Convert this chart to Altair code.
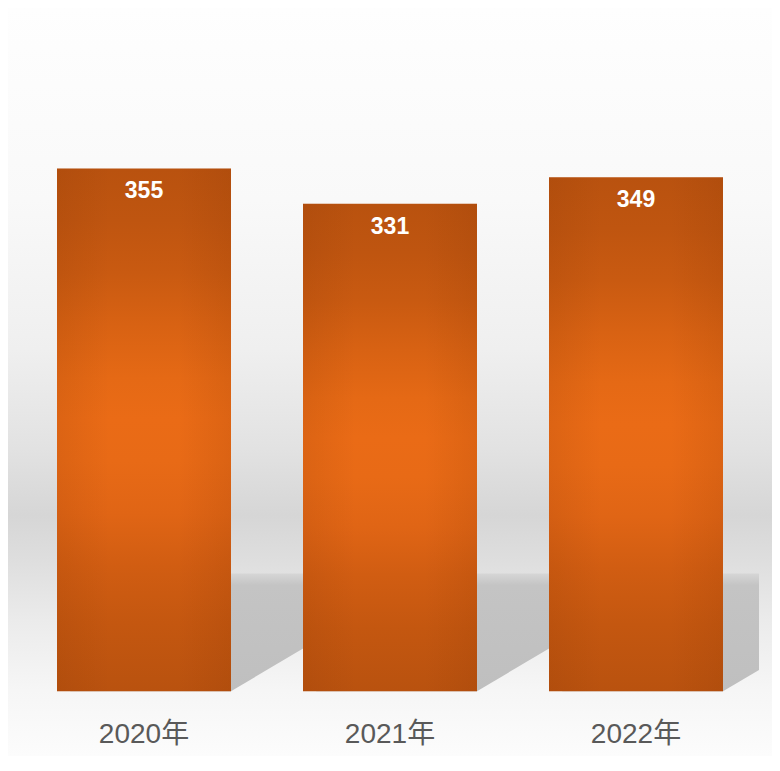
import altair as alt
import pandas as pd

# ---- data ----
years = ["2020年", "2021年", "2022年"]
values = [355, 331, 349]

# ---- layout / style constants ----
W, H = 764, 748
Y_DOMAIN = [-44, 464]
LABEL_Y = -35
PAD_INNER = 0.2927
PAD_OUTER = 0.1992
X_Q_DOMAIN = [-0.5528, 2.5528]   # index units matching the band scale
BAR_HALF = 0.3537
SHADOW_TOP = 80
SHADOW_RUN = 0.809
SHADOW_BACK = 0.3
SHADOW_CLIP = 2.5
FONT = "Liberation Sans, Arial, Noto Sans CJK SC, sans-serif"

df = pd.DataFrame({"year": years, "value": values})

rows = []
for i, yr in enumerate(years):
    right = i + BAR_HALF
    end = right + SHADOW_RUN
    pts = [(i - SHADOW_BACK, 0), (right, 0)]
    if end > SHADOW_CLIP:
        pts.append((SHADOW_CLIP, SHADOW_TOP * (SHADOW_CLIP - right) / SHADOW_RUN))
    else:
        pts.append((end, SHADOW_TOP))
    for p, lo in pts:
        rows.append({"bar": yr, "pos": p, "lo": lo, "hi": SHADOW_TOP})
shadow_df = pd.DataFrame(rows)

bg_gradient = {
    "gradient": "linear", "x1": 0, "y1": 0, "x2": 0, "y2": 1,
    "stops": [
        {"offset": 0.0, "color": "#fefefe"},
        {"offset": 0.257, "color": "#f9f9f9"},
        {"offset": 0.457, "color": "#efefef"},
        {"offset": 0.59, "color": "#e2e2e2"},
        {"offset": 0.678, "color": "#d6d6d6"},
        {"offset": 0.738, "color": "#dedede"},
        {"offset": 0.818, "color": "#ebebeb"},
        {"offset": 0.912, "color": "#f6f6f6"},
        {"offset": 1.0, "color": "#fcfcfc"},
    ],
}

bar_gradient = {
    "gradient": "linear", "x1": 0, "y1": 0, "x2": 0, "y2": 1,
    "stops": [
        {"offset": 0.0, "color": "#b9520f"},
        {"offset": 0.1, "color": "#bf5510"},
        {"offset": 0.2, "color": "#c95a11"},
        {"offset": 0.3, "color": "#d86213"},
        {"offset": 0.4, "color": "#e56915"},
        {"offset": 0.48, "color": "#ea6b16"},
        {"offset": 0.56, "color": "#e86a16"},
        {"offset": 0.66, "color": "#e06515"},
        {"offset": 0.76, "color": "#d15d12"},
        {"offset": 0.87, "color": "#c45710"},
        {"offset": 1.0, "color": "#b9520f"},
    ],
}

side_gradient = {
    "gradient": "linear", "x1": 0, "y1": 0, "x2": 1, "y2": 0,
    "stops": [
        {"offset": 0.0, "color": "rgba(120,45,0,0.12)"},
        {"offset": 0.3, "color": "rgba(120,45,0,0)"},
        {"offset": 0.7, "color": "rgba(120,45,0,0)"},
        {"offset": 1.0, "color": "rgba(120,45,0,0.12)"},
    ],
}

shadow_gradient = {
    "gradient": "linear", "x1": 0, "y1": 0, "x2": 0, "y2": 1,
    "stops": [
        {"offset": 0.0, "color": "#d6d6d6"},
        {"offset": 0.1, "color": "#c4c4c4"},
        {"offset": 1.0, "color": "#bfbfbf"},
    ],
}

yscale = alt.Scale(domain=Y_DOMAIN, nice=False, zero=False)
xband = alt.X("year:N", sort=years,
              scale=alt.Scale(type="band", paddingInner=PAD_INNER, paddingOuter=PAD_OUTER),
              axis=None)

background = alt.Chart(pd.DataFrame({"a": [0]})).mark_rect(fill=bg_gradient).encode(
    x=alt.value(0), x2=alt.value(W), y=alt.value(0), y2=alt.value(H)
)

shadow = alt.Chart(shadow_df).mark_area(fill=shadow_gradient, opacity=1).encode(
    x=alt.X("pos:Q", scale=alt.Scale(domain=X_Q_DOMAIN, nice=False, zero=False), axis=None),
    y=alt.Y("lo:Q", scale=yscale, axis=None, stack=None),
    y2=alt.Y2("hi:Q"),
    detail="bar:N",
)

base = alt.Chart(df)

bars = base.mark_bar(fill=bar_gradient).encode(
    x=xband,
    y=alt.Y("value:Q", scale=yscale, axis=None),
    y2=alt.datum(0),
)

bars_side = base.mark_bar(fill=side_gradient).encode(
    x=xband,
    y=alt.Y("value:Q", scale=yscale, axis=None),
    y2=alt.datum(0),
)

value_labels = base.mark_text(
    font=FONT, fontSize=23, fontWeight="bold", color="white",
    baseline="alphabetic", dy=30,
).encode(
    x=xband,
    y=alt.Y("value:Q", scale=yscale, axis=None),
    text="value:Q",
)

year_labels = base.mark_text(
    font=FONT, fontSize=28, color="#595959", baseline="alphabetic",
).encode(
    x=xband,
    y=alt.Y(datum=LABEL_Y, scale=yscale, axis=None),
    text="year:N",
)

chart = (
    alt.layer(background, shadow, bars, bars_side, value_labels, year_labels)
    .resolve_scale(x="independent")
    .properties(width=W, height=H, padding=0, background="white")
    .configure_view(strokeWidth=0)
)

chart.save("out.html", embed_options={"renderer": "svg", "actions": False})
